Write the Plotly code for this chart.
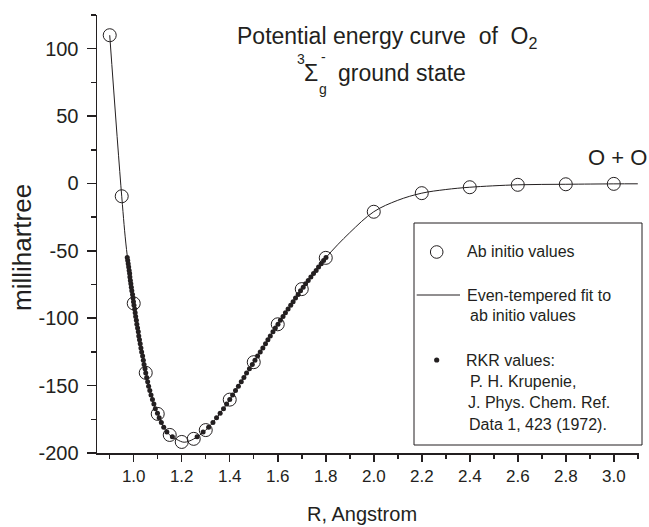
import plotly.graph_objects as go

# ---------------- data ----------------
R_abinitio = [0.90, 0.95, 1.00, 1.05, 1.10, 1.15, 1.20, 1.25, 1.30, 1.40,
              1.50, 1.60, 1.70, 1.80, 2.00, 2.20, 2.40, 2.60, 2.80, 3.00]
E_abinitio = [110.0, -9.5, -89.0, -140.5, -171.0, -186.6, -191.8, -189.5, -183.0, -160.4,
              -132.6, -104.5, -78.4, -55.2, -21.0, -7.2, -2.8, -1.0, -0.6, -0.3]

R_fit = [0.90, 0.95, 0.97, 1.00, 1.02, 1.05, 1.08, 1.10, 1.13, 1.15, 1.18, 1.21,
         1.25, 1.30, 1.35, 1.40, 1.50, 1.60, 1.70, 1.80, 1.90, 2.00, 2.10, 2.20,
         2.30, 2.40, 2.60, 2.80, 3.00, 3.10]
E_fit = [110.0, -9.5, -49.0, -89.0, -111.5, -140.4, -161.8, -171.0, -182.5, -186.6, -190.0, -192.0,
         -189.6, -183.0, -172.9, -160.4, -132.6, -104.5, -78.4, -55.2, -36.5, -21.0, -12.5, -7.2,
         -4.5, -2.8, -1.0, -0.6, -0.3, -0.25]

E_rkr = [-188.0, -184.5, -180.9, -177.4, -173.9, -170.5, -167.1, -163.7, -160.3, -157.0,
         -153.7, -150.4, -147.1, -143.9, -140.7, -137.5, -134.4, -131.2, -128.1, -125.1,
         -122.0, -119.0, -116.0, -113.1, -110.1, -107.2, -104.4, -101.5, -98.7, -95.9,
         -93.1, -90.4, -87.7, -85.0, -82.3, -79.7, -77.1, -74.5, -72.0, -69.4,
         -66.9, -64.5, -62.0, -59.6, -57.2, -54.9]
R_rkr_inner = [1.161, 1.138, 1.125, 1.115, 1.106, 1.099, 1.090, 1.084, 1.078, 1.072,
               1.067, 1.062, 1.058, 1.054, 1.050, 1.047, 1.043, 1.040, 1.037, 1.033,
               1.030, 1.027, 1.024, 1.021, 1.019, 1.016, 1.013, 1.011, 1.008, 1.006,
               1.004, 1.001, 0.999, 0.997, 0.995, 0.992, 0.990, 0.988, 0.986, 0.984,
               0.983, 0.981, 0.979, 0.977, 0.975, 0.973]
R_rkr_outer = [1.264, 1.289, 1.312, 1.330, 1.345, 1.360, 1.374, 1.387, 1.400, 1.412,
               1.424, 1.436, 1.448, 1.459, 1.470, 1.482, 1.494, 1.505, 1.516, 1.527,
               1.538, 1.549, 1.559, 1.569, 1.580, 1.590, 1.601, 1.611, 1.622, 1.632,
               1.643, 1.654, 1.664, 1.674, 1.685, 1.695, 1.706, 1.716, 1.727, 1.738,
               1.749, 1.760, 1.770, 1.781, 1.791, 1.801]

x_tickvals = [1.0, 1.2, 1.4, 1.6, 1.8, 2.0, 2.2, 2.4, 2.6, 2.8, 3.0]
x_ticktext = ["1.0", "1.2", "1.4", "1.6", "1.8", "2.0", "2.2", "2.4", "2.6", "2.8", "3.0"]
y_tickvals = [-200, -150, -100, -50, 0, 50, 100]
y_ticktext = ["-200", "-150", "-100", "-50", "0", "50", "100"]

legend_labels = ["Ab initio values", "Even-tempered fit to", "ab initio values",
                 "RKR values:", "P. H. Krupenie,", "J. Phys. Chem. Ref.", "Data 1, 423 (1972)."]

# ---------------- figure ----------------
INK = "#231f20"
FONT = "Arial, 'Liberation Sans', sans-serif"
W, H = 649, 527
ML, MR, MT, MB = 97, 10, 15, 74
PW, PH = W - ML - MR, H - MT - MB


def px(xp):
    return (xp - ML) / PW


def py(yp):
    return (H - MB - yp) / PH


fig = go.Figure()

fig.add_trace(go.Scatter(x=R_fit, y=E_fit, mode="lines", line_shape="spline",
                         line=dict(color=INK, width=1), hoverinfo="skip", showlegend=False))
fig.add_trace(go.Scatter(x=R_rkr_inner + R_rkr_outer, y=E_rkr + E_rkr, mode="markers",
                         marker=dict(symbol="circle", size=5, color=INK, line=dict(width=0)),
                         showlegend=False))
fig.add_trace(go.Scatter(x=R_abinitio, y=E_abinitio, mode="markers",
                         marker=dict(symbol="circle-open", size=13, color=INK, line=dict(width=1)),
                         showlegend=False))

axis_common = dict(showline=True, linecolor=INK, linewidth=1.5, ticks="outside",
                   tickcolor=INK, tickwidth=1.5, showgrid=False, zeroline=False,
                   mirror=False, tickmode="array")

fig.update_xaxes(range=[0.847, 3.105], tickvals=x_tickvals, ticktext=x_ticktext, ticklen=7,
                 tickfont=dict(family=FONT, size=17, color=INK),
                 minor=dict(tickmode="linear", tick0=0.9, dtick=0.2, ticklen=4,
                            tickcolor=INK, tickwidth=1.5, ticks="outside"),
                 **axis_common)
fig.update_yaxes(range=[-200, 125], tickvals=y_tickvals, ticktext=y_ticktext, ticklen=9,
                 tickfont=dict(family=FONT, size=20, color=INK), ticklabelstandoff=4,
                 minor=dict(tickmode="linear", tick0=-175, dtick=50, ticklen=5,
                            tickcolor=INK, tickwidth=1.5, ticks="outside"),
                 **axis_common)

shapes = []
# legend box
shapes.append(dict(type="rect", xref="paper", yref="paper",
                   x0=px(414), x1=px(642), y0=py(445), y1=py(223),
                   line=dict(color=INK, width=1), fillcolor="rgba(0,0,0,0)"))
# legend symbols
shapes.append(dict(type="circle", xref="paper", yref="paper", xsizemode="pixel", ysizemode="pixel",
                   xanchor=px(436.7), yanchor=py(252), x0=-6.3, x1=6.3, y0=-6.3, y1=6.3,
                   line=dict(color=INK, width=1)))
shapes.append(dict(type="line", xref="paper", yref="paper",
                   x0=px(416.7), x1=px(460), y0=py(295), y1=py(295),
                   line=dict(color=INK, width=1)))
shapes.append(dict(type="circle", xref="paper", yref="paper", xsizemode="pixel", ysizemode="pixel",
                   xanchor=px(436.7), yanchor=py(360), x0=-2.6, x1=2.6, y0=-2.6, y1=2.6,
                   line=dict(color=INK, width=0), fillcolor=INK))

annotations = []
leg_pos = [(465, 252), (465, 295), (468, 316), (464, 360), (468, 381), (466, 402), (467, 424)]
for lab, (lx, ly) in zip(legend_labels, leg_pos):
    annotations.append(dict(text=lab, xref="paper", yref="paper", x=px(lx), y=py(ly),
                            xanchor="left", yanchor="middle", showarrow=False,
                            font=dict(family=FONT, size=16, color=INK)))


def ann(text, x, y, size, xanchor="left", angle=0):
    annotations.append(dict(text=text, xref="paper", yref="paper", x=px(x), y=py(y),
                            xanchor=xanchor, yanchor="middle", showarrow=False, textangle=angle,
                            font=dict(family=FONT, size=size, color=INK)))


ann("Potential energy curve\u00a0\u00a0of\u00a0\u00a0O<sub>2</sub>", 235, 37, 23)
ann("3", 295, 59, 14)
ann("Σ", 302, 73, 23)
ann("g", 317, 89, 14)
ann("-", 319, 57, 14)
ann("ground state", 336, 73, 23)
ann("O + O", 617, 157, 22, xanchor="center")
ann("millihartree", 22, 248, 26, xanchor="center", angle=-90)
ann("R, Angstrom", 362, 514, 20, xanchor="center")

fig.update_layout(width=W, height=H, margin=dict(l=ML, r=MR, t=MT, b=MB),
                  paper_bgcolor="white", plot_bgcolor="white", showlegend=False,
                  shapes=shapes, annotations=annotations)

fig.write_html("out.html", config={"displayModeBar": False, "staticPlot": True},
               post_script="document.body.style.margin='0px';")
